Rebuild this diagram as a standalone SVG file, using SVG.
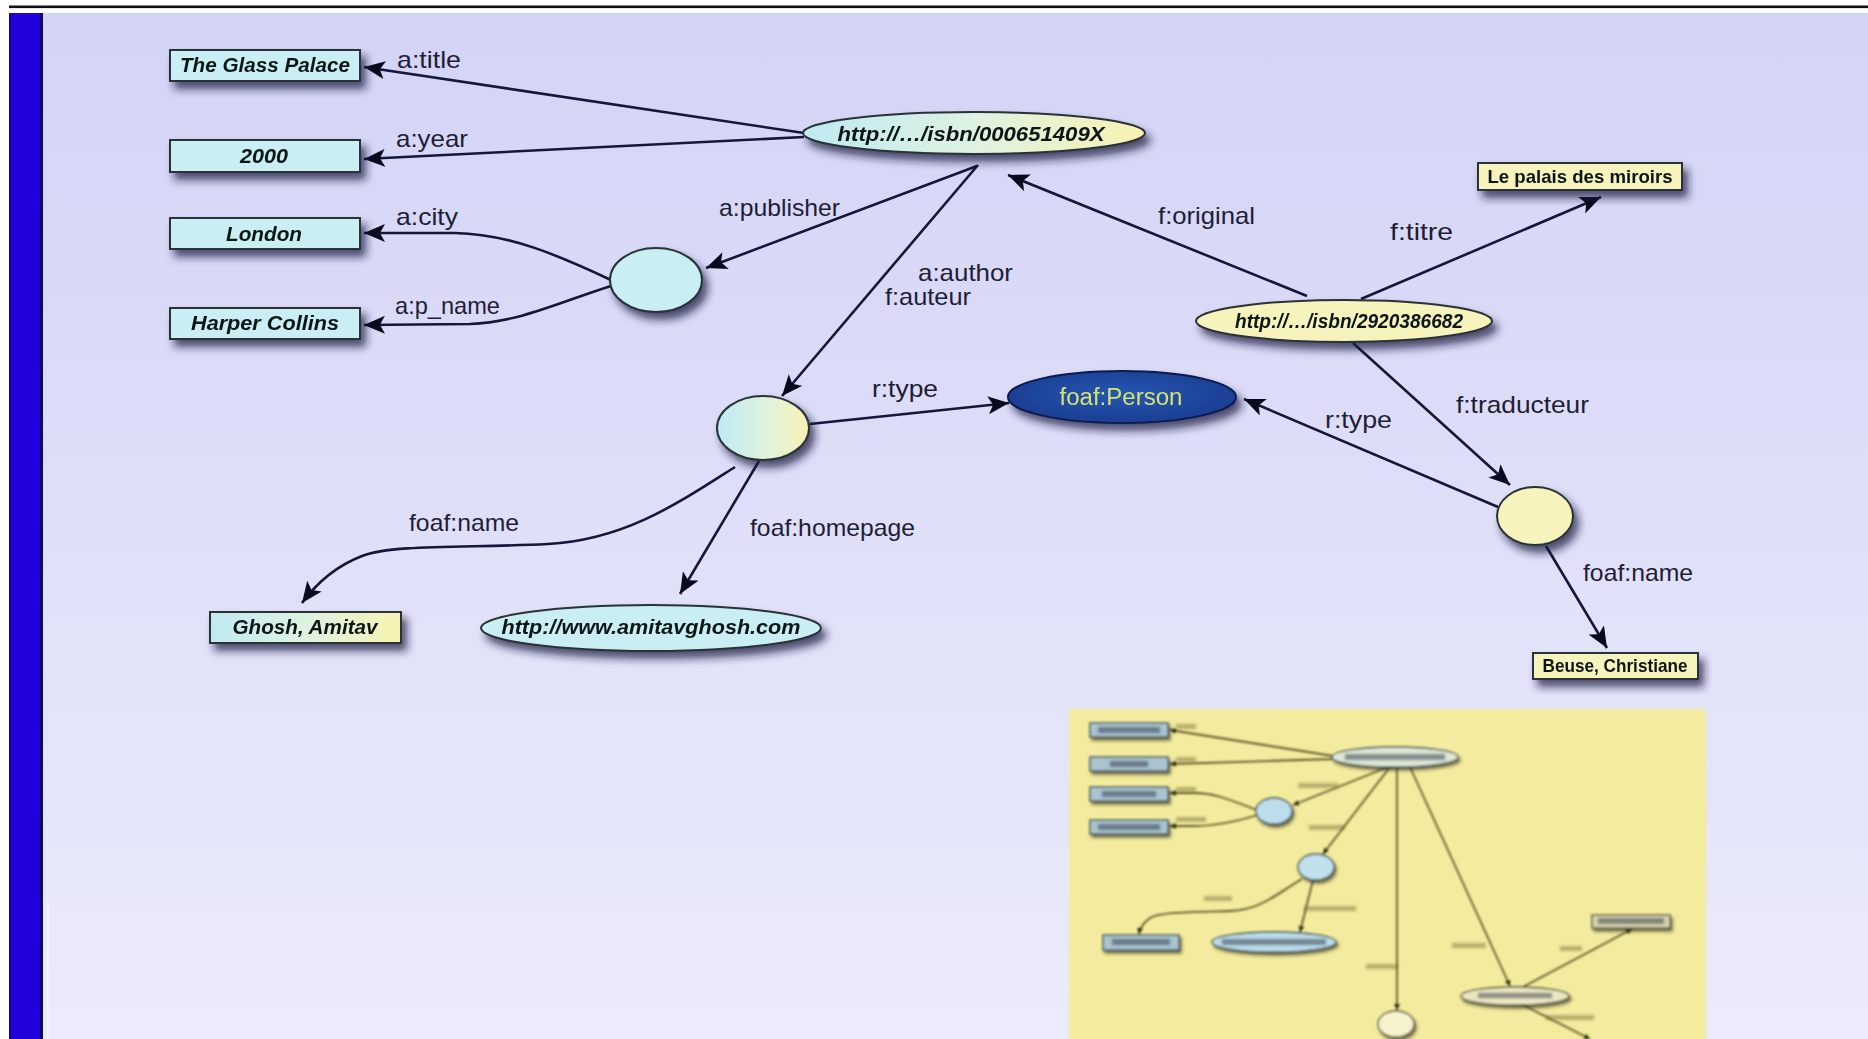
<svg xmlns="http://www.w3.org/2000/svg" width="1868" height="1039" viewBox="0 0 1868 1039">
  <defs>
    <linearGradient id="bg" x1="0" y1="0" x2="0" y2="1">
      <stop offset="0" stop-color="#d3d3f6"/>
      <stop offset="1" stop-color="#ebebfb"/>
    </linearGradient>
    <linearGradient id="cyanYellow" x1="0" y1="0" x2="1" y2="0">
      <stop offset="0" stop-color="#bfeaf2"/>
      <stop offset="0.5" stop-color="#def2e2"/>
      <stop offset="1" stop-color="#f8f2b2"/>
    </linearGradient>
    <radialGradient id="personFill" cx="0.5" cy="0.45" r="0.6">
      <stop offset="0" stop-color="#2656b4"/>
      <stop offset="1" stop-color="#1a3c8e"/>
    </radialGradient>
    <filter id="shadow" x="-20%" y="-40%" width="140%" height="200%">
      <feDropShadow dx="5" dy="7" stdDeviation="4" flood-color="#1a1a40" flood-opacity="0.75"/>
    </filter>
    <filter id="shadowSmall" x="-20%" y="-50%" width="140%" height="200%">
      <feDropShadow dx="2" dy="3" stdDeviation="1.5" flood-color="#303020" flood-opacity="0.7"/>
    </filter>
    <filter id="soft" x="-5%" y="-5%" width="110%" height="110%">
      <feGaussianBlur stdDeviation="0.8"/>
    </filter>
    <filter id="smudge" x="-20%" y="-100%" width="140%" height="300%">
      <feGaussianBlur stdDeviation="1.5"/>
    </filter>
    <filter id="edge" x="-2%" y="-2%" width="104%" height="104%">
      <feGaussianBlur stdDeviation="1.5"/>
    </filter>
    <marker id="arrow" markerUnits="userSpaceOnUse" markerWidth="24" markerHeight="20" refX="21" refY="9" orient="auto">
      <path d="M0,0 L21,9 L0,18 L5,9 Z" fill="#0a0a1e"/>
    </marker>
    <marker id="arrowTiny" markerUnits="userSpaceOnUse" markerWidth="8" markerHeight="8" refX="6" refY="3" orient="auto">
      <path d="M0,0 L6,3 L0,6 Z" fill="#2a2a10"/>
    </marker>
    <style>
      .edge { fill: none; stroke: #16163a; stroke-width: 2.6; marker-end: url(#arrow); }
      .lbl { font-family: "Liberation Sans", Arial, sans-serif; font-size: 24px; fill: #1e1e36; }
      .box { stroke: #2a3236; stroke-width: 2; }
      .cyan { fill: #c9eef3; }
      .yellow { fill: #f7f3bd; }
      .mix { fill: url(#cyanYellow); }
      .nt { font-family: "Liberation Sans", Arial, sans-serif; font-size: 20px; font-weight: bold; font-style: italic; fill: #0e1616; text-anchor: middle; }
      .nu { font-family: "Liberation Sans", Arial, sans-serif; font-size: 19px; font-weight: bold; fill: #0e1616; text-anchor: middle; }
      .tline { fill: none; stroke: #5e5a2a; stroke-width: 1.8; marker-end: url(#arrowTiny); }
      .tbox { fill: #aac4d0; stroke: #34444e; stroke-width: 1.3; }
      .tsm { fill: #2a3440; opacity: 0.5; }
      .tlab { fill: #6a6434; opacity: 0.45; }
    </style>
  </defs>

  <!-- page frame -->
  <rect x="0" y="0" width="1868" height="1039" fill="#ffffff"/>
  <rect x="9" y="13" width="1859" height="1026" fill="url(#bg)"/>
  <rect x="9" y="5.5" width="1859" height="2.6" fill="#111111"/>
  <rect x="9" y="13" width="34" height="1026" fill="#2200dc"/>
  <rect x="9" y="13" width="1.6" height="1026" fill="#140a78"/>
  <rect x="40" y="13" width="3" height="1026" fill="#0e0a5a"/>
  <rect x="47" y="903" width="2" height="136" fill="#f4f4fc" opacity="0.8"/>

  <!-- connectors -->
  <g id="connectors">
    <path id="e-title" class="edge" d="M804,133 L364,67"/>
    <path id="e-year" class="edge" d="M804,137 L364,159"/>
    <path id="e-publisher" class="edge" d="M977,166 L706,268"/>
    <path id="e-city" class="edge" d="M611,280 C560,256 510,234 455,233 L364,233"/>
    <path id="e-pname" class="edge" d="M611,286 C560,302 520,322 470,324 L364,325"/>
    <path id="e-author" class="edge" d="M978,165 L782,396"/>
    <path id="e-original" class="edge" d="M1307,296 L1008,175"/>
    <path id="e-titre" class="edge" d="M1361,299 L1601,197"/>
    <path id="e-traducteur" class="edge" d="M1353,343 L1510,485"/>
    <path id="e-type-1" class="edge" d="M810,424 L1009,403"/>
    <path id="e-type-2" class="edge" d="M1498,507 L1244,399"/>
    <path id="e-name-1" class="edge" d="M735,467 C680,502 625,540 548,544 C470,548 392,544 362,556 C336,566 316,584 302,603"/>
    <path id="e-homepage" class="edge" d="M759,461 L680,594"/>
    <path id="e-name-2" class="edge" d="M1546,546 L1607,648"/>

    <text class="lbl" x="397" y="68" textLength="64" lengthAdjust="spacingAndGlyphs">a:title</text>
    <text class="lbl" x="396" y="147" textLength="72" lengthAdjust="spacingAndGlyphs">a:year</text>
    <text class="lbl" x="396" y="225" textLength="62" lengthAdjust="spacingAndGlyphs">a:city</text>
    <text class="lbl" x="395" y="314" textLength="105" lengthAdjust="spacingAndGlyphs">a:p_name</text>
    <text class="lbl" x="719" y="216" textLength="121" lengthAdjust="spacingAndGlyphs">a:publisher</text>
    <text class="lbl" x="918" y="281" textLength="95" lengthAdjust="spacingAndGlyphs">a:author</text>
    <text class="lbl" x="885" y="305" textLength="86" lengthAdjust="spacingAndGlyphs">f:auteur</text>
    <text class="lbl" x="1158" y="224" textLength="97" lengthAdjust="spacingAndGlyphs">f:original</text>
    <text class="lbl" x="1390" y="240" textLength="63" lengthAdjust="spacingAndGlyphs">f:titre</text>
    <text class="lbl" x="872" y="397" textLength="66" lengthAdjust="spacingAndGlyphs">r:type</text>
    <text class="lbl" x="1325" y="428" textLength="67" lengthAdjust="spacingAndGlyphs">r:type</text>
    <text class="lbl" x="1456" y="413" textLength="133" lengthAdjust="spacingAndGlyphs">f:traducteur</text>
    <text class="lbl" x="409" y="531" textLength="110" lengthAdjust="spacingAndGlyphs">foaf:name</text>
    <text class="lbl" x="750" y="536" textLength="165" lengthAdjust="spacingAndGlyphs">foaf:homepage</text>
    <text class="lbl" x="1583" y="581" textLength="110" lengthAdjust="spacingAndGlyphs">foaf:name</text>
  </g>

  <!-- nodes -->
  <g id="n-glass-palace" filter="url(#shadow)">
    <rect class="box cyan" x="170" y="50" width="190" height="31"/>
    <text class="nt" x="265" y="72" textLength="170" lengthAdjust="spacingAndGlyphs">The Glass Palace</text>
  </g>
  <g id="n-year" filter="url(#shadow)">
    <rect class="box cyan" x="170" y="140" width="190" height="32"/>
    <text class="nt" x="264" y="163" textLength="48" lengthAdjust="spacingAndGlyphs">2000</text>
  </g>
  <g id="n-london" filter="url(#shadow)">
    <rect class="box cyan" x="170" y="218" width="190" height="31"/>
    <text class="nt" x="264" y="241" textLength="76" lengthAdjust="spacingAndGlyphs">London</text>
  </g>
  <g id="n-harper" filter="url(#shadow)">
    <rect class="box cyan" x="170" y="308" width="190" height="31"/>
    <text class="nt" x="265" y="330" textLength="148" lengthAdjust="spacingAndGlyphs">Harper Collins</text>
  </g>
  <g id="n-book" filter="url(#shadow)">
    <ellipse class="box mix" cx="974" cy="133" rx="171" ry="21"/>
    <text class="nt" x="971" y="141" font-size="21" textLength="267" lengthAdjust="spacingAndGlyphs">http://…/isbn/000651409X</text>
  </g>
  <g id="n-publisher" filter="url(#shadow)">
    <ellipse class="box cyan" cx="656" cy="280" rx="46" ry="32"/>
  </g>
  <g id="n-author" filter="url(#shadow)">
    <ellipse class="box mix" cx="763" cy="428" rx="46" ry="32"/>
  </g>
  <g id="n-person" filter="url(#shadow)">
    <ellipse cx="1122" cy="397" rx="114" ry="26" fill="url(#personFill)" stroke="#0c1a4e" stroke-width="2"/>
    <text x="1121" y="405" font-family="'Liberation Sans', Arial, sans-serif" font-size="23" fill="#d4e46c" text-anchor="middle" textLength="123" lengthAdjust="spacingAndGlyphs">foaf:Person</text>
  </g>
  <g id="n-translation" filter="url(#shadow)">
    <ellipse class="box yellow" cx="1344" cy="321" rx="148" ry="21"/>
    <text class="nt" x="1349" y="328" font-size="19" textLength="228" lengthAdjust="spacingAndGlyphs">http://…/isbn/2920386682</text>
  </g>
  <g id="n-titre" filter="url(#shadow)">
    <rect class="box yellow" x="1478" y="163" width="204" height="27"/>
    <text class="nu" x="1580" y="183" textLength="185" lengthAdjust="spacingAndGlyphs">Le palais des miroirs</text>
  </g>
  <g id="n-translator" filter="url(#shadow)">
    <ellipse class="box yellow" cx="1535" cy="516" rx="38" ry="29"/>
  </g>
  <g id="n-beuse" filter="url(#shadow)">
    <rect class="box yellow" x="1533" y="653" width="165" height="26"/>
    <text class="nu" x="1615" y="672" font-size="18" textLength="145" lengthAdjust="spacingAndGlyphs">Beuse, Christiane</text>
  </g>
  <g id="n-ghosh" filter="url(#shadow)">
    <rect class="box mix" x="210" y="612" width="191" height="31"/>
    <text class="nt" x="305" y="634" textLength="145" lengthAdjust="spacingAndGlyphs">Ghosh, Amitav</text>
  </g>
  <g id="n-homepage" filter="url(#shadow)">
    <ellipse class="box cyan" cx="651" cy="628" rx="170" ry="23"/>
    <text class="nt" x="651" y="634" textLength="299" lengthAdjust="spacingAndGlyphs">http://www.amitavghosh.com</text>
  </g>

  <!-- small inset picture of an earlier layout -->
  <g id="inset">
    <rect x="1069" y="709" width="637" height="340" fill="#f3eb9d" filter="url(#edge)"/>
    <g filter="url(#soft)">
      <path class="tline" d="M1333,756 L1170,730"/>
      <path class="tline" d="M1333,759 L1170,764"/>
      <path class="tline" d="M1388,767 L1293,805"/>
      <path class="tline" d="M1257,810 C1230,800 1215,793 1195,793 L1170,793"/>
      <path class="tline" d="M1258,815 C1235,822 1215,826 1195,826 L1170,826"/>
      <path class="tline" d="M1390,767 L1323,854"/>
      <path class="tline" d="M1302,879 C1275,895 1260,910 1230,911 C1190,912 1160,912 1150,918 C1143,923 1140,928 1139,934"/>
      <path class="tline" d="M1313,880 L1300,932"/>
      <path class="tline" d="M1397,767 L1397,1010"/>
      <path class="tline" d="M1410,767 L1510,986"/>
      <path class="tline" d="M1523,987 L1632,929"/>
      <path class="tline" d="M1523,1005 L1590,1039"/>

      <g filter="url(#shadowSmall)">
        <rect class="tbox" x="1090" y="723" width="78" height="14"/>
        <rect class="tbox" x="1090" y="757" width="78" height="14"/>
        <rect class="tbox" x="1090" y="787" width="78" height="14"/>
        <rect class="tbox" x="1090" y="820" width="78" height="14"/>
        <ellipse cx="1395" cy="757" rx="63" ry="10" fill="#dde8d6" stroke="#34444e" stroke-width="1.3"/>
        <ellipse cx="1274" cy="811" rx="18" ry="13" fill="#bcdeec" stroke="#34444e" stroke-width="1.3"/>
        <ellipse cx="1316" cy="867" rx="18" ry="13" fill="#c0e0ec" stroke="#34444e" stroke-width="1.3"/>
        <rect class="tbox" x="1103" y="935" width="76" height="15"/>
        <ellipse cx="1274" cy="942" rx="62" ry="10" fill="#bcdcea" stroke="#34444e" stroke-width="1.3"/>
        <ellipse cx="1396" cy="1024" rx="18" ry="13" fill="#f6f2cc" stroke="#4a4a30" stroke-width="1.3"/>
        <ellipse cx="1515" cy="996" rx="54" ry="9" fill="#ece6c2" stroke="#4a4a30" stroke-width="1.3"/>
        <rect x="1592" y="915" width="78" height="13" fill="#d8d4b0" stroke="#4a4a30" stroke-width="1.3"/>
      </g>
    </g>
    <g filter="url(#smudge)">
      <rect class="tsm" x="1098" y="727" width="62" height="6"/>
      <rect class="tsm" x="1110" y="761" width="38" height="6"/>
      <rect class="tsm" x="1102" y="791" width="54" height="6"/>
      <rect class="tsm" x="1098" y="824" width="62" height="6"/>
      <rect class="tsm" x="1345" y="754" width="100" height="6"/>
      <rect class="tsm" x="1112" y="939" width="58" height="6"/>
      <rect class="tsm" x="1222" y="939" width="104" height="6"/>
      <rect class="tsm" x="1478" y="993" width="74" height="5"/>
      <rect class="tsm" x="1598" y="918" width="66" height="6"/>
      <rect class="tlab" x="1176" y="724" width="20" height="5"/>
      <rect class="tlab" x="1176" y="757" width="20" height="5"/>
      <rect class="tlab" x="1176" y="787" width="20" height="5"/>
      <rect class="tlab" x="1176" y="817" width="30" height="5"/>
      <rect class="tlab" x="1298" y="783" width="40" height="5"/>
      <rect class="tlab" x="1309" y="825" width="36" height="5"/>
      <rect class="tlab" x="1204" y="896" width="28" height="5"/>
      <rect class="tlab" x="1304" y="906" width="52" height="5"/>
      <rect class="tlab" x="1366" y="964" width="32" height="5"/>
      <rect class="tlab" x="1452" y="943" width="34" height="5"/>
      <rect class="tlab" x="1560" y="946" width="22" height="5"/>
      <rect class="tlab" x="1546" y="1015" width="48" height="5"/>
    </g>
  </g>
</svg>
